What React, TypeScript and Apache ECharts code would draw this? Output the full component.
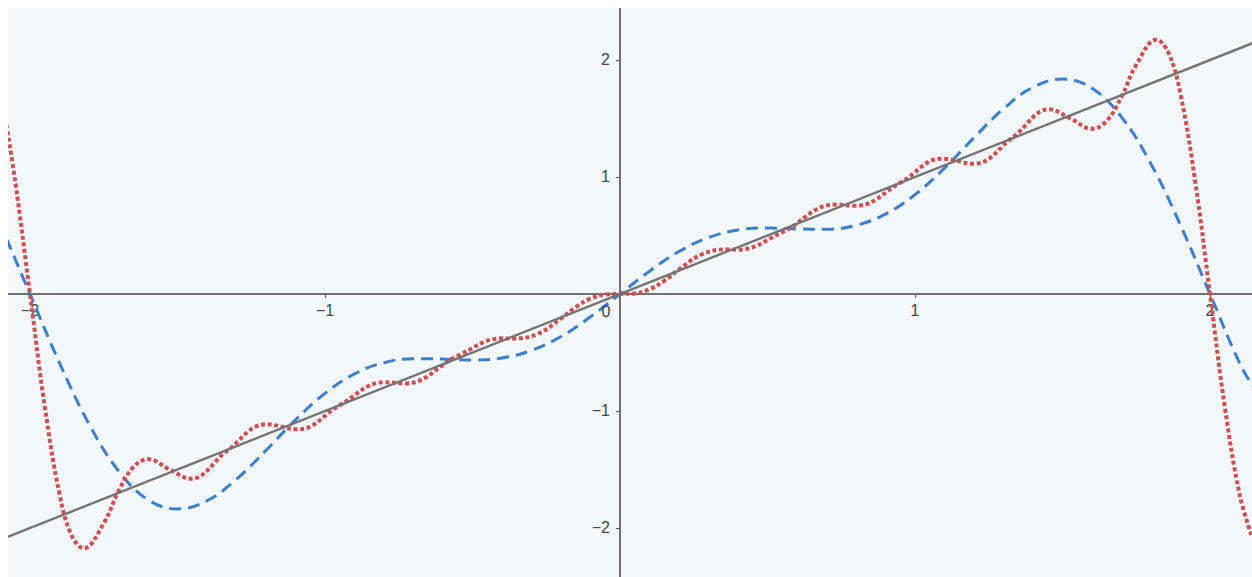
import React, { useEffect, useRef } from 'react';
import * as echarts from 'echarts';

// Axis window
const X_MIN = -2.0746;
const X_MAX = 2.1424;
const Y_MIN = -2.4188;
const Y_MAX = 2.4444;

// Tick labels (0 drawn separately below-left of the origin)
const xTicks = [-2, -1, 1, 2];
const yTicks = [-2, -1, 1, 2];

// Gray line y = x
const lineX = [-2.09, 2.15];
const lineY = [-2.09, 2.15];

// Blue dashed curve
const blueX = [
  -2.08, -2.0, -1.9, -1.8, -1.7, -1.6, -1.5, -1.4, -1.3, -1.2, -1.1, -1.0,
  -0.9, -0.8, -0.7, -0.6, -0.5, -0.4, -0.3, -0.2, -0.1, 0,
  0.1, 0.2, 0.3, 0.4, 0.5, 0.6, 0.7, 0.8, 0.9, 1.0, 1.1, 1.2, 1.3, 1.4,
  1.5, 1.6, 1.7, 1.8, 1.9, 2.0, 2.1, 2.15,
];
const blueY = [
  0.474, 0, -0.589, -1.111, -1.512, -1.758, -1.837, -1.767, -1.583, -1.336, -1.076, -0.849,
  -0.683, -0.587, -0.553, -0.556, -0.564, -0.547, -0.482, -0.363, -0.195, 0,
  0.195, 0.363, 0.482, 0.547, 0.564, 0.556, 0.553, 0.587, 0.683, 0.849, 1.076, 1.336, 1.583, 1.767,
  1.837, 1.758, 1.512, 1.111, 0.589, 0, -0.589, -0.809,
];

// Red dotted curve
const redX = [
  -2.08, -2.05, -2.0, -1.95, -1.9, -1.86, -1.818, -1.75, -1.7, -1.65, -1.6, -1.525,
  -1.4545, -1.3333, -1.2, -1.0909, -0.95, -0.8, -0.727, -0.55, -0.4, -0.3636,
  -0.28, -0.2, -0.15, -0.1, -0.05, 0,
  0.05, 0.1, 0.15, 0.2, 0.28, 0.3636, 0.4, 0.55, 0.727, 0.8, 0.95, 1.0909,
  1.2, 1.3333, 1.4545, 1.525, 1.6, 1.65, 1.7, 1.75, 1.818, 1.86, 1.9, 1.95,
  2.0, 2.05, 2.1, 2.14,
];
const redY = [
  1.446, 0.961, 0, -0.961, -1.708, -2.058, -2.173, -1.959, -1.685, -1.48, -1.412, -1.503,
  -1.579, -1.343, -1.114, -1.157, -0.95, -0.754, -0.764, -0.528, -0.379, -0.38,
  -0.342, -0.21, -0.112, -0.04, -0.005, 0,
  0.005, 0.04, 0.112, 0.21, 0.342, 0.38, 0.379, 0.528, 0.764, 0.754, 0.95, 1.157,
  1.114, 1.343, 1.579, 1.503, 1.412, 1.48, 1.685, 1.959, 2.173, 2.058, 1.708, 0.961,
  0, -0.961, -1.708, -2.058,
];

const zip = (xs: number[], ys: number[]) => xs.map((x, i) => [x, ys[i]]);

const fmt = (v: number) => (v < 0 ? '\u2212' + Math.abs(v) : String(v));

const AXIS_COLOR = '#707070';
const LABEL_COLOR = '#454545';
const FONT = 'Liberation Sans, Arial, sans-serif';

const W = 1244;
const H = 569;

export default function App() {
  const ref = useRef<HTMLDivElement>(null);

  useEffect(() => {
    if (!ref.current) return;
    const chart = echarts.init(ref.current, undefined, { renderer: 'svg' });
    // pixel position of the zero lines inside the plot
    const zeroY = (Y_MAX / (Y_MAX - Y_MIN)) * H;
    const zeroX = (-X_MIN / (X_MAX - X_MIN)) * W;
    chart.setOption({
      animation: false,
      backgroundColor: '#f3f8fc',
      grid: {
        left: 0,
        right: 0,
        top: 0,
        bottom: 0,
        containLabel: false,
        outerBoundsMode: 'none',
      },
      xAxis: {
        type: 'value',
        min: X_MIN,
        max: X_MAX,
        position: 'bottom',
        offset: -(H - zeroY),
        axisLine: { show: true, onZero: false, lineStyle: { color: AXIS_COLOR, width: 2 } },
        axisTick: { show: true, customValues: xTicks, length: 4, lineStyle: { color: '#555', width: 1 } },
        axisLabel: {
          customValues: xTicks,
          formatter: fmt,
          color: LABEL_COLOR,
          fontSize: 16,
          fontFamily: FONT,
          margin: 9,
        },
        splitLine: { show: false },
      },
      yAxis: {
        type: 'value',
        min: Y_MIN,
        max: Y_MAX,
        position: 'left',
        offset: -zeroX,
        axisLine: { show: true, onZero: false, lineStyle: { color: AXIS_COLOR, width: 2 } },
        axisTick: { show: true, customValues: yTicks, length: 4, lineStyle: { color: '#555', width: 1 } },
        axisLabel: {
          customValues: yTicks,
          formatter: fmt,
          color: LABEL_COLOR,
          fontSize: 16,
          fontFamily: FONT,
          margin: 10,
        },
        splitLine: { show: false },
      },
      graphic: [
        {
          type: 'text',
          x: 598,
          y: 303,
          style: {
            text: '0',
            fill: LABEL_COLOR,
            fontSize: 16,
            fontFamily: FONT,
            align: 'center',
            verticalAlign: 'middle',
          },
          z: 100,
        },
      ],
      series: [
        {
          type: 'line',
          name: 'blue',
          data: zip(blueX, blueY),
          showSymbol: false,
          smooth: 0.4,
          silent: true,
          lineStyle: { color: '#3c7ecf', width: 3, type: [12, 7] },
          z: 3,
        },
        {
          type: 'line',
          name: 'red',
          data: zip(redX, redY),
          showSymbol: false,
          smooth: 0.4,
          silent: true,
          lineStyle: { color: '#d24f4f', width: 4, type: [4, 2.6], cap: 'butt' },
          z: 4,
        },
        {
          type: 'line',
          name: 'gray',
          data: zip(lineX, lineY),
          showSymbol: false,
          silent: true,
          lineStyle: { color: '#737373', width: 2.4 },
          z: 5,
        },
      ],
    });
    return () => chart.dispose();
  }, []);

  return (
    <div
      ref={ref}
      style={{ position: 'fixed', left: 8, top: 8, width: W, height: H }}
    />
  );
}
